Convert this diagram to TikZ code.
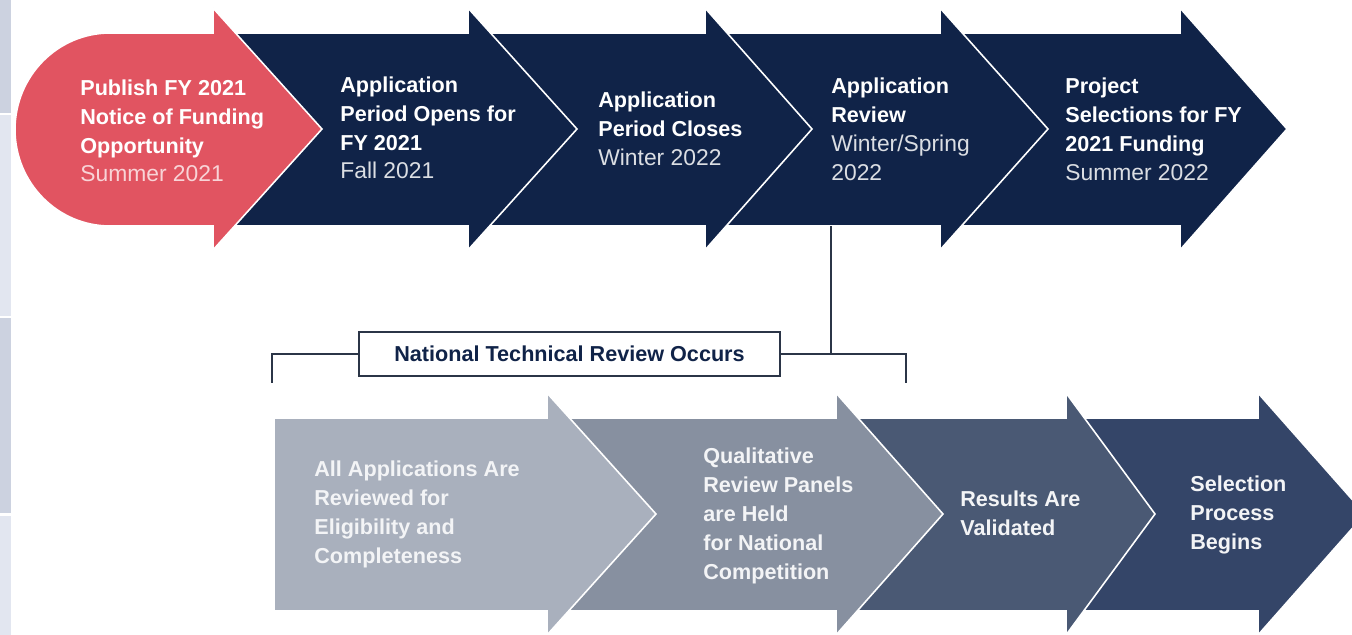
\documentclass[tikz,border=0pt]{standalone}
\usepackage{fontspec}
\setmainfont{Liberation Sans}
\definecolor{fundred}{RGB}{225,84,97}
\definecolor{navy}{RGB}{16,35,72}
\definecolor{bone}{RGB}{169,176,189}
\definecolor{btwo}{RGB}{135,144,160}
\definecolor{bthree}{RGB}{74,89,116}
\definecolor{bfour}{RGB}{52,69,104}
\definecolor{stripdark}{RGB}{204,210,224}
\definecolor{striplight}{RGB}{226,230,240}
\definecolor{bracketgray}{RGB}{43,53,71}
\newcommand{\datefont}{\fontseries{m}\fontsize{13}{16.4}\selectfont}
\begin{document}
\begin{tikzpicture}[x=0.02cm,y=-0.02cm,
    toparrow/.style={fill=navy, draw=white, line width=0.9pt, line join=miter},
    lowarrow/.style={draw=white, line width=0.9pt, line join=miter},
    steptext/.style={anchor=west, align=left, inner sep=0pt, text=white,
      font=\bfseries\fontsize{12.3}{16.4}\selectfont},
    lowtext/.style={steptext, text={rgb,255:red,243;green,244;blue,246}},
    bracket/.style={draw=bracketgray, line width=1.1pt}]
  \useasboundingbox (0,0) rectangle (1352,635);
  % strip on the left edge
  \fill[stripdark] (0,0) rectangle (11,113);
  \fill[striplight] (0,115) rectangle (11,316);
  \fill[stripdark] (0,318) rectangle (11,513);
  \fill[striplight] (0,516) rectangle (11,635);
  % top row, drawn right to left
  \foreach \l/\b/\t in {940/1180/1287, 705/940/1048, 468/705/812, 213/468/577}
    \draw[toparrow] (\l,33) -- (\b,33) -- (\b,8) -- (\t,129) -- (\b,250) -- (\b,226) -- (\l,226) -- cycle;
  \draw[toparrow, fill=fundred] (213,33) -- (110,33)
    arc[start angle=270, end angle=90, x radius=95, y radius=96.5]
    -- (213,226) -- (213,250) -- (322,129) -- (213,8) -- cycle;
  \node[steptext] (publish) at (80,131) {Publish FY 2021\\Notice of Funding\\Opportunity\\{\datefont\color{fundred!25!white}Summer 2021}};
  \node[steptext] (opens) at (340,128) {Application\\Period Opens for\\FY 2021\\{\datefont\color{navy!15!white}Fall 2021}};
  \node[steptext] (closes) at (598,129) {Application\\Period Closes\\{\datefont\color{navy!15!white}Winter 2022}};
  \node[steptext] (review) at (831,129.5) {Application\\Review\\{\datefont\color{navy!15!white}Winter/Spring}\\{\datefont\color{navy!15!white}2022}};
  \node[steptext] (select) at (1065,129.5) {Project\\Selections for FY\\2021 Funding\\{\datefont\color{navy!15!white}Summer 2022}};
  % national technical review bracket
  \coordinate (revbot) at (831,226);
  \node[bracket, fill=white, minimum width=8.42cm, minimum height=0.88cm, inner sep=0pt,
    text=navy, font=\bfseries\fontsize{12.3}{14}\selectfont] (ntr) at (569.5,354) {National Technical Review Occurs};
  \coordinate (brL) at (272,354);
  \coordinate (brR) at (906,354);
  \draw[bracket] (ntr.west) -- (brL) -- ++(0,29);
  \draw[bracket] (ntr.east) -- (brR) -- ++(0,29);
  \draw[bracket] (revbot) -- (revbot |- ntr.east);
  % bottom row, drawn right to left
  \foreach \l/\b/\t/\c in {1066/1258/1365/bfour, 836/1066/1155/bthree, 547/836/943/btwo, 274/547/656/bone}
    \draw[lowarrow, fill=\c] (\l,418) -- (\b,418) -- (\b,393) -- (\t,514) -- (\b,635) -- (\b,611) -- (\l,611) -- cycle;
  \node[lowtext] (eligible) at (314,514.5) {All Applications Are\\Reviewed for\\Eligibility and\\Completeness};
  \node[lowtext] (panels) at (703,516) {Qualitative\\Review Panels\\are Held\\for National\\Competition};
  \node[lowtext] (valid) at (960,513.5) {Results Are\\Validated};
  \node[lowtext] (begins) at (1190,515) {Selection\\Process\\Begins};
\end{tikzpicture}
\end{document}
